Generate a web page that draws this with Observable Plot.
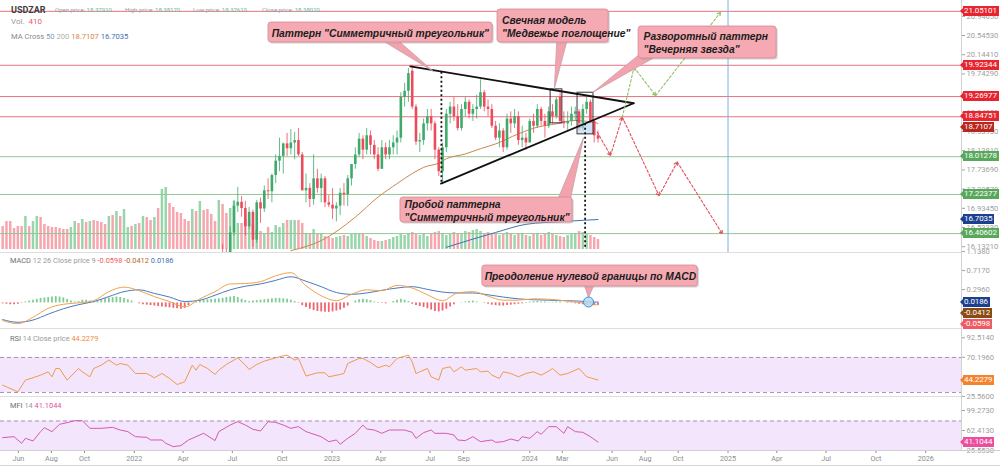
<!DOCTYPE html>
<html><head><meta charset="utf-8">
<script src="https://cdn.jsdelivr.net/npm/d3@7"></script>
<script src="https://cdn.jsdelivr.net/npm/@observablehq/plot@0.6"></script>
<style>
body{margin:0;background:#fff;}
#chart{position:relative;width:1000px;height:467px;overflow:hidden;background:#fff;font-family:Roboto,"Noto Sans",sans-serif;}
.pane{position:absolute;left:0;}
.sep{position:absolute;left:0;height:1px;background:#dedede;}
.txt{position:absolute;white-space:nowrap;line-height:1;}
.tag{position:absolute;left:963px;height:10px;line-height:10px;font-size:8px;letter-spacing:-0.1px;color:#fff;padding:0 2px 0 1px;white-space:nowrap;}
.tag::before{content:"";position:absolute;left:-3px;top:2px;border-top:3px solid transparent;border-bottom:3px solid transparent;border-right:3px solid var(--bg);}
</style></head>
<body><div id="chart"></div>
<script>
// ---------------- DATA ----------------
const WEEK0 = Date.UTC(2021, 4, 3);            // first weekly bar (Mon 3 May 2021)
const CANDLE_FIRST = 58;                       // first candle drawn in the visible price range (13 Jun 2022)
const candleOpen = [15.95,15.93,15.92,16.42,16.98,17.06,16.93,16.55,16.85,16.27,
 17.05,16.92,17.30,17.28,17.62,17.92,18.02,18.28,18.18,18.30,
 18.35,18.05,17.30,17.35,17.12,17.55,17.35,17.55,17.05,17.00,
 16.92,16.98,17.25,17.22,17.55,17.85,18.05,18.38,18.15,18.45,
 18.25,18.05,17.75,18.20,18.05,18.20,18.30,18.40,19.25,19.38,
 19.80,19.05,18.32,18.35,18.70,18.85,18.70,18.15,17.70,18.20,
 18.90,19.05,18.85,18.60,19.00,19.15,18.90,19.00,19.05,19.35,
 19.05,19.00,18.65,18.40,18.55,18.20,18.80,18.70,18.85,18.35,
 18.40,18.30,18.75,18.65,19.00,18.75,18.65,18.95,18.85,19.25,
 18.75,18.70,18.75,18.90,18.95,18.60,19.00,19.15,18.75,18.45];
const candleHigh = [16.18,16.08,16.55,17.10,17.37,17.18,17.08,16.95,16.90,17.10,
 17.15,17.40,17.55,17.65,18.05,18.40,18.30,18.50,18.58,18.52,
 18.60,18.10,17.65,17.45,18.05,17.75,17.65,17.60,17.20,17.35,
 17.05,17.35,17.45,17.62,17.85,18.20,18.50,18.45,18.60,18.55,
 18.35,18.20,18.35,18.30,18.35,18.45,18.55,19.35,19.55,19.86,
 19.92,19.10,18.50,18.80,19.00,19.00,18.75,18.20,18.30,19.00,
 19.15,19.25,19.10,19.10,19.25,19.20,19.10,19.30,19.62,19.40,
 19.20,19.10,18.75,18.70,18.60,18.90,18.95,19.00,18.95,18.65,
 18.50,18.80,18.90,19.10,19.05,18.90,19.05,19.10,19.25,19.35,
 18.95,18.95,19.05,19.05,19.00,19.10,19.25,19.20,18.80,18.55];
const candleLow = [15.78,15.78,15.80,16.35,16.85,16.75,16.35,16.50,16.12,16.20,
 16.62,16.85,17.12,17.05,17.45,17.70,17.65,18.02,18.05,17.95,
 18.02,17.30,17.05,16.95,17.00,17.25,17.05,16.95,16.95,16.70,
 16.65,16.78,16.98,16.97,17.40,17.75,18.00,17.95,18.05,18.05,
 17.95,17.70,17.75,17.95,17.95,18.05,18.05,18.30,19.05,19.15,
 19.00,18.25,18.10,18.25,18.55,18.55,17.95,17.60,17.45,18.10,
 18.70,18.75,18.55,18.55,18.85,18.80,18.75,18.80,19.00,18.95,
 18.85,18.60,18.35,18.20,18.10,18.15,18.50,18.60,18.25,18.20,
 18.15,18.30,18.50,18.60,18.65,18.40,18.60,18.70,18.80,18.70,
 18.60,18.55,18.65,18.75,18.55,18.55,18.90,18.70,18.30,18.30];
const candleClose = [15.93,15.92,16.42,16.98,17.06,16.93,16.55,16.85,16.27,17.05,
 16.92,17.30,17.28,17.62,17.92,18.02,18.28,18.18,18.30,18.35,
 18.05,17.30,17.35,17.12,17.55,17.35,17.55,17.05,17.00,16.92,
 16.98,17.25,17.22,17.55,17.85,18.05,18.38,18.15,18.45,18.25,
 18.05,17.75,18.20,18.05,18.20,18.30,18.40,19.25,19.38,19.75,
 19.05,18.32,18.35,18.70,18.85,18.70,18.15,17.70,18.20,18.90,
 19.05,18.85,18.60,19.00,19.15,18.90,19.00,19.05,19.35,19.05,
 19.00,18.65,18.40,18.55,18.20,18.80,18.70,18.85,18.35,18.40,
 18.30,18.75,18.65,19.00,18.75,18.65,18.95,18.85,19.20,18.75,
 18.70,18.75,18.90,18.95,18.60,19.00,19.15,18.75,18.45,18.38];
// weekly volume (one value per week from 3 May 2021)
const volume = [23,28,28,21,23,23,33,23,28,33,32,25,23,22,22,21,20,20,22,28,
 26,30,27,28,29,28,27,25,33,34,38,33,40,22,23,25,26,33,32,29,
 32,41,60,62,46,42,37,36,30,28,40,38,48,39,40,35,28,49,45,36,
 41,48,26,26,30,28,25,19,18,15,22,17,24,22,26,29,29,29,29,26,
 16,15,20,15,16,13,12,11,12,13,14,13,15,16,15,15,13,11,9,8,
 8,9,10,12,13,15,14,16,17,15,14,16,13,15,17,18,16,14,15,17,
 16,15,18,17,19,20,18,16,17,15,16,14,15,17,16,14,15,16,14,13,
 15,16,14,15,17,16,14,13,12,14,15,16,18,17,15,14,12,10];
// up(1)/down(0) colour of the volume bars before the first visible candle
const volUpEarly = [0,0,0,0,0,0,1,0,1,1,0,0,0,0,0,0,0,0,1,1,
 0,1,0,1,0,0,0,0,1,0,1,0,1,1,0,1,0,1,0,0,
 1,0,1,1,0,0,0,0,0,0,1,0,1,0,0,0,0,1];
const ma50Week = [76,84,93,99,104,108,111,115,117,122,126,130,136,141,146,151,157];
const ma50Value = [16.05,16.26,16.75,17.17,17.45,17.66,17.79,17.88,17.97,18.07,18.18,18.28,18.49,18.63,18.70,18.77,18.71];
const ma200Week = [117,130,138,148,157];
const ma200Value = [16.12,16.43,16.60,16.66,16.70];
const levelValues = [21.05101,19.92344,19.26977,18.84751,18.01278,17.22377,16.40602];
const levelKind = ["r","r","r","r","g","g","g"];
const priceTicks = [16.1321,16.5333,16.9345,17.3357,17.7369,18.1381,18.5393,18.9405,19.3417,19.7429,20.1441,20.5453,20.9465];

const macdWeek = [0,4,8,12,16,20,24,28,32,36,40,44,48,52,56,60,64,68,72,76,80,84,88,92,96,100,104,108,112,116,120,124,128,132,136,140,144,148,152,156,157];
const macdLine = [-0.39,-0.46,-0.32,-0.12,-0.03,0.0,0.05,0.25,0.35,0.27,0.14,0.03,-0.09,0.09,0.25,0.42,0.43,0.47,0.60,0.67,0.38,0.16,0.05,0.19,0.29,0.27,0.39,0.33,0.18,0.05,0.22,0.25,0.15,0.06,0.06,0.09,0.08,0.05,0.01,-0.04,-0.0412];
const signalLine = [-0.37,-0.43,-0.38,-0.25,-0.13,-0.04,0.03,0.14,0.25,0.29,0.21,0.13,0.03,0.06,0.17,0.29,0.37,0.42,0.50,0.58,0.48,0.36,0.23,0.19,0.22,0.28,0.33,0.36,0.30,0.24,0.22,0.22,0.18,0.13,0.09,0.07,0.06,0.05,0.04,0.02,0.0186];
const macdHist = [-0.02,-0.03,-0.04,-0.04,-0.03,-0.01,0.02,0.04,0.06,0.08,0.10,0.11,0.12,0.13,0.14,0.13,0.11,0.08,0.04,0.02,
 0.03,0.06,0.06,0.04,0.02,0.04,0.07,0.09,0.11,0.12,0.13,0.12,0.10,0.07,0.04,0.00,-0.02,-0.04,-0.05,-0.06,
 -0.07,-0.08,-0.09,-0.10,-0.11,-0.12,-0.13,-0.14,-0.12,-0.06,0.01,0.03,0.05,0.06,0.07,0.08,0.08,0.09,0.10,0.12,
 0.13,0.14,0.12,0.08,0.05,0.03,0.04,0.05,0.06,0.07,0.08,0.09,0.10,0.10,0.09,0.08,0.06,0.03,-0.01,-0.06,
 -0.10,-0.14,-0.17,-0.19,-0.20,-0.21,-0.21,-0.20,-0.18,-0.16,-0.12,-0.07,0.00,0.04,0.07,0.08,0.07,0.05,0.02,0.01,
 -0.01,-0.02,0.00,0.03,0.06,0.08,0.06,0.03,-0.03,-0.06,-0.08,-0.10,-0.13,-0.16,-0.19,-0.20,-0.18,-0.14,-0.09,-0.04,
 0.00,0.01,0.02,0.03,0.04,0.02,0.00,-0.01,-0.03,-0.05,-0.06,-0.07,-0.07,-0.06,-0.05,-0.04,-0.03,-0.02,0.01,0.02,
 0.03,0.03,0.02,0.02,0.01,0.01,0.02,0.02,0.00,-0.01,-0.01,-0.02,-0.03,-0.04,-0.05,-0.05,-0.06,-0.06];
const macdTicks = [1.138,0.717,0.296];

const rsiWeek = [0,1,4,6,8,10,12,13,14,15,17,20,21,23,24,26,28,30,31,33,35,38,40,42,44,46,48,50,51,52,54,56,57,59,61,62,64,65,67,69,72,74,75,77,78,80,83,85,86,89,90,91,94,95,97,99,101,102,104,107,108,109,110,112,113,115,116,118,119,121,122,125,126,128,129,131,132,134,136,138,140,142,144,145,147,149,152,154,155,157];
const rsiValue = [38.4,36.5,30.8,44.1,46.8,49.8,53.6,47.9,57.4,57.4,44.1,57.4,53.6,47.9,57.4,61.2,67,61.2,63.1,61.2,51.7,51.7,46.8,51.7,46,39.1,42.2,61.2,55.5,62,57.4,50.6,55.5,62,67,69.6,61.2,56.3,62,65.8,69.6,71.9,72.7,67,68.9,48.8,52.5,52.5,47.9,50.6,51.7,63.1,68.9,68.9,64.3,58.2,61.2,59.3,68.9,72.7,65,51.7,53.6,57.4,47.9,44.1,57.4,59.3,53.6,59.3,55.5,57.4,53.6,54.4,49.8,46,53.6,51.7,47.9,51.7,53.6,49.8,54.4,57.4,49.8,51.7,57.4,47.9,46.8,44.23];
const rsiTicks = [92.514,70.196,25.56];

const mfiWeek = [0,3,5,6,8,10,11,13,15,17,19,21,23,26,29,31,33,35,38,39,42,43,45,47,49,51,53,56,57,60,62,64,66,68,70,72,74,76,78,80,84,86,88,89,91,93,95,96,98,100,102,106,108,109,111,113,114,117,119,120,122,124,126,129,130,132,134,136,137,139,141,142,144,146,148,149,151,153,155,157];
const mfiValue = [49.3,51.1,38.9,48.1,43.2,60.4,67.7,60.4,73.9,77,80.6,80.6,66.5,66.5,68.3,63.4,60.4,51.1,49.9,45,45,38.9,32.7,34.6,45,51.1,57.3,43.8,60.4,72.6,78.8,72.6,64.7,61.6,78.8,77.5,72.6,66.5,69.6,60.4,51.1,41.9,45,37,48.1,57.3,72.6,65.3,63.4,57.3,63.4,63.4,59.1,48.1,58.5,63.4,57.3,57.3,54.2,45,43.8,51.1,41.9,45,40.7,41.9,46.8,43.2,51.1,48.1,60.4,55.4,69.6,69.6,57.3,69.6,60.4,59.1,51.1,41.1];
const mfiTicks = [99.273,62.413,25.553];

const timeTickDates = ["2021-06-01","2021-08-01","2021-10-01","2022-01-01","2022-04-01","2022-07-01","2022-10-01","2023-01-01","2023-04-01","2023-07-01","2023-09-01","2024-01-01","2024-03-01","2024-06-01","2024-08-01","2024-10-01","2025-01-01","2025-04-01","2025-07-01","2025-10-01","2026-01-01"];
const timeTickLabels = ["Jun","Aug","Oct","2022","Apr","Jul","Oct","2023","Apr","Jul","Sep","2024","Mar","Jun","Aug","Oct","2025","Apr","Jul","Oct","2026"];

// annotations (x in week index from WEEK0, y in price / indicator units)
const triangleUpper = [{i:107.5,p:19.90},{i:166.4,p:19.13}];
const triangleLower = [{i:115.6,p:17.45},{i:166.4,p:19.13}];
const dottedRules = [{i:115.7,p1:19.78,p2:17.48},{i:153.6,p1:18.70,p2:16.10}];
const patternBoxes = [{i1:144.5,i2:147.6,p1:18.71,p2:19.42},{i1:151.6,i2:155.8,p1:18.48,p2:19.35}];
const breakFill = [{i1:151.9,i2:155.6,p1:18.48,p2:18.71}];
const bearPath = [[156.8,18.525],[160.3,18.04],[163.4,18.84],[173.1,17.20],[177.9,17.90],[189.8,16.40]];
const bullPath = [[163.4,18.84],[166.5,19.88],[172.2,19.29],[189.3,21.03]];
const priceCallouts = [
 {i1:70.1,i2:129.2,p1:20.399,p2:20.817,tx:99.6,ty:20.608,anchor:"middle",text:'Паттерн "Симметричный треугольник"'},
 {i1:130.5,i2:159.8,p1:20.399,p2:21.089,tx:131.7,ty:20.744,anchor:"start",text:'Свечная модель\n"Медвежье поглощение"'},
 {i1:167.7,i2:204.1,p1:20.065,p2:20.734,tx:169.0,ty:20.399,anchor:"start",text:'Разворотный паттерн\n"Вечерняя звезда"'},
 {i1:104.9,i2:150.3,p1:16.638,p2:17.16,tx:106.0,ty:16.90,anchor:"start",text:'Пробой паттерна\n"Симметричный треугольник"'}
];
const priceWedges = [
 {id:"a",pts:[[101,20.40],[113.6,19.793],[104.9,20.40]]},
 {id:"b",pts:[[146.1,20.40],[145.5,19.438],[148.7,20.40]]},
 {id:"c",pts:[[168.2,20.17],[155.6,19.355],[171.4,20.065]]},
 {id:"d",pts:[[146.6,17.16],[153.2,18.414],[149.8,17.16]]}
];
const macdCallouts = [{i1:126.5,i2:183.3,p1:0.364,p2:0.829,tx:155.0,ty:0.596,anchor:"middle",text:"Преодоление нулевой границы по MACD"}];
const macdWedges = [{id:"e",pts:[[153.5,0.37],[154.5,0.12],[155.8,0.37]]}];
const macdCircle = [{i:154.5,v:0.02}];

// ---------------- HELPERS ----------------
const DAY = 864e5;
const wk = i => new Date(WEEK0 + i * 7 * DAY);
const X_DOMAIN = [new Date(Date.UTC(2021,3,29)), new Date(Date.UTC(2026,2,8))];
const W = 1000, MR = 39;
const GREEN = "#3faa6c", RED = "#ec4b5b";
const chart = document.getElementById("chart");
const common = {width: W, marginLeft: 0, marginRight: MR, marginTop: 0, marginBottom: 0,
  x: {type: "utc", domain: X_DOMAIN, axis: null}, color: {type: "identity"},
  style: {background: "transparent", overflow: "visible"}};
const axisOpts = (fmt) => ({anchor: "right", tickSize: 3, tickPadding: 2, tickFormat: fmt, fontSize: 7.6, color: "#a0a0a0", label: null, fontFamily: "Roboto, sans-serif"});
const calloutTextOpts = {fontSize: 10.3, fontStyle: "italic", fontWeight: "bold", fontFamily: "Liberation Sans, Arial, sans-serif", fill: "#1c1c1c", lineHeight: 1.25, lineAnchor: "middle"};
function calloutMarks(list, wedges) {
  const wpts = wedges.flatMap(w => w.pts.map(p => ({id: w.id, i: p[0], v: p[1]})));
  return [
    Plot.line(wpts, {x: d => wk(d.i), y: "v", z: "id", fill: "#f3a3ad", stroke: "#c7a0a6", strokeWidth: 0.8}),
    Plot.rect(list, {x1: d => wk(d.i1), x2: d => wk(d.i2), y1: "p1", y2: "p2", fill: "#999", fillOpacity: 0.45, dx: 1.5, dy: 1.5, rx: 3}),
    Plot.rect(list, {x1: d => wk(d.i1), x2: d => wk(d.i2), y1: "p1", y2: "p2", fill: "#f5a9b2", stroke: "#d98894", strokeWidth: 0.8, rx: 3}),
    Plot.text(list, {filter: d => d.anchor === "middle", x: d => wk(d.tx), y: "ty", text: "text", textAnchor: "middle", ...calloutTextOpts}),
    Plot.text(list, {filter: d => d.anchor === "start", x: d => wk(d.tx), y: "ty", text: "text", textAnchor: "start", ...calloutTextOpts})
  ];
}
function place(el, top) { el.classList.add("pane"); el.style.top = top + "px"; chart.appendChild(el); }

// ---------------- DATA TABLES ----------------
const candles = candleClose.map((c, k) => ({t: wk(CANDLE_FIRST + k), o: candleOpen[k], h: candleHigh[k], l: candleLow[k], c,
  col: c >= candleOpen[k] ? GREEN : RED}));
const vols = volume.map((v, i) => {
  const up = i < CANDLE_FIRST ? volUpEarly[i] === 1 : candleClose[i - CANDLE_FIRST] >= candleOpen[i - CANDLE_FIRST];
  return {t: wk(i), v, col: up ? "#98d5aa" : "#f6a6af"};
});
const levels = levelValues.map((v, k) => ({v, col: levelKind[k] === "r" ? "#e8737d" : "#93c793"}));
const ma50 = ma50Week.map((i, k) => ({t: wk(i), v: ma50Value[k]}));
const ma200 = ma200Week.map((i, k) => ({t: wk(i), v: ma200Value[k]}));
const segs = (path, col) => d3.pairs(path).map(([a, b]) => ({x1: wk(a[0]), y1: a[1], x2: wk(b[0]), y2: b[1], col}));
const arrows = [...segs(bearPath, "#e2505d"), ...segs(bullPath, "#93bf68")];

// ---------------- VOLUME (overlay under price) ----------------
const volPlot = Plot.plot({...common, height: 249, y: {domain: [0, 249], axis: null},
  marks: [Plot.ruleX(vols, {x: "t", y1: 0, y2: "v", stroke: "col", strokeWidth: 2.5})]});
place(volPlot, 0);

// ---------------- PRICE ----------------
const pricePlot = Plot.plot({...common, height: 252, y: {domain: [16.011, 21.277], axis: null},
  marks: [
    Plot.ruleY(levels, {y: "v", stroke: "col", strokeWidth: 1}),
    Plot.ruleX([new Date(Date.UTC(2025,0,1))], {stroke: "#7fb0de", strokeWidth: 1}),
    Plot.line(ma200, {x: "t", y: "v", stroke: "#3f6fb5", strokeWidth: 1, curve: "monotone-x", clip: true}),
    Plot.line(ma50, {x: "t", y: "v", stroke: "#c8884f", strokeWidth: 1, curve: "monotone-x", clip: true}),
    Plot.ruleX(candles, {x: "t", y1: "l", y2: "h", stroke: "col", strokeWidth: 1, strokeOpacity: 0.8, clip: true}),
    Plot.ruleX(candles, {x: "t", y1: "o", y2: "c", stroke: "col", strokeWidth: 2.6, clip: true}),
    Plot.rect(breakFill, {x1: d => wk(d.i1), x2: d => wk(d.i2), y1: "p1", y2: "p2", fill: "#b7d6f3", fillOpacity: 0.65}),
    Plot.rect(patternBoxes, {x1: d => wk(d.i1), x2: d => wk(d.i2), y1: "p1", y2: "p2", fill: "none", stroke: "#333", strokeWidth: 1}),
    Plot.line(triangleUpper, {x: d => wk(d.i), y: "p", stroke: "#111", strokeWidth: 1.8}),
    Plot.line(triangleLower, {x: d => wk(d.i), y: "p", stroke: "#111", strokeWidth: 1.8}),
    Plot.ruleX(dottedRules, {x: d => wk(d.i), y1: "p1", y2: "p2", stroke: "#111", strokeWidth: 1.8, strokeDasharray: "2,2.5"}),
    Plot.arrow(arrows, {x1: "x1", y1: "y1", x2: "x2", y2: "y2", stroke: "col", strokeWidth: 1.1, strokeDasharray: "2.5,2", headLength: 5}),
    ...calloutMarks(priceCallouts, priceWedges),
    Plot.axisY(priceTicks, axisOpts(d => d.toFixed(5)))
  ]});
place(pricePlot, 0);

// ---------------- MACD ----------------
const histData = macdHist.map((v, i) => ({t: wk(i), v, col: v >= 0 ? "#7fcc93" : "#f06470"}));
const macdData = macdWeek.map((i, k) => ({t: wk(i), m: macdLine[k], s: signalLine[k]}));
const macdPlot = Plot.plot({...common, height: 76, y: {domain: [-0.5676, 1.1175], axis: null},
  marks: [
    Plot.ruleX(histData, {x: "t", y1: 0, y2: "v", stroke: "col", strokeWidth: 1.8}),
    Plot.line(macdData, {x: "t", y: "s", stroke: "#4a78c2", strokeWidth: 1, curve: "monotone-x"}),
    Plot.line(macdData, {x: "t", y: "m", stroke: "#eea34c", strokeWidth: 1, curve: "monotone-x"}),
    ...calloutMarks(macdCallouts, macdWedges),
    Plot.dot(macdCircle, {x: d => wk(d.i), y: "v", r: 5, fill: "#b5daf5", fillOpacity: 0.85, stroke: "#3f8ed8", strokeWidth: 1}),
    Plot.axisY(macdTicks, axisOpts(d => d.toFixed(4)))
  ]});
place(macdPlot, 252);

// ---------------- RSI ----------------
const band = [{}];
const rsiData = rsiWeek.map((i, k) => ({t: wk(i), v: rsiValue[k]}));
const rsiPlot = Plot.plot({...common, height: 68, y: {domain: [25.4, 103.1], axis: null},
  marks: [
    Plot.rect(band, {x1: () => X_DOMAIN[0], x2: () => X_DOMAIN[1], y1: () => 30, y2: () => 70, fill: "#f3e5fb"}),
    Plot.ruleY([30, 70], {stroke: "#a892b8", strokeDasharray: "4,3", strokeWidth: 1}),
    Plot.line(rsiData, {x: "t", y: "v", stroke: "#f09a4e", strokeWidth: 1}),
    Plot.axisY(rsiTicks, axisOpts(d => d.toFixed(4)))
  ]});
place(rsiPlot, 328);

// ---------------- MFI ----------------
const mfiData = mfiWeek.map((i, k) => ({t: wk(i), v: mfiValue[k]}));
const mfiPlot = Plot.plot({...common, height: 54, y: {domain: [25.6, 125.2], axis: null},
  marks: [
    Plot.rect(band, {x1: () => X_DOMAIN[0], x2: () => X_DOMAIN[1], y1: () => 20, y2: () => 80, fill: "#f3e5fb", clip: true}),
    Plot.ruleY([80], {stroke: "#a892b8", strokeDasharray: "4,3", strokeWidth: 1}),
    Plot.line(mfiData, {x: "t", y: "v", stroke: "#d65aae", strokeWidth: 1}),
    Plot.axisY(mfiTicks, axisOpts(d => d.toFixed(4)))
  ]});
place(mfiPlot, 396);

// ---------------- TIME AXIS ----------------
const labelOf = new Map(timeTickDates.map((d, k) => [+new Date(d + "T00:00:00Z"), timeTickLabels[k]]));
const timePlot = Plot.plot({width: W, height: 17, marginLeft: 0, marginRight: MR, marginTop: 0, marginBottom: 17,
  x: {type: "utc", domain: X_DOMAIN, axis: null}, style: {background: "transparent", overflow: "visible"},
  marks: [Plot.axisX(timeTickDates.map(d => new Date(d + "T00:00:00Z")), {anchor: "bottom", tickSize: 3, tickPadding: 2,
    tickFormat: d => labelOf.get(+d), fontSize: 7.2, color: "#8e8e8e", label: null, fontFamily: "Roboto, sans-serif"})]});
place(timePlot, 450);

// ---------------- FRAME LINES ----------------
function line(style) { const d = document.createElement("div"); d.className = "sep"; Object.assign(d.style, style); chart.appendChild(d); }
[252, 328, 396].forEach(y => line({top: y + "px", width: "961px"}));
line({top: "450px", width: "1000px", background: "#cfcfcf"});
line({top: "465px", width: "1000px", background: "#d5d5d5"});
line({top: "0px", left: "961px", width: "1px", height: "450px", background: "#d2d2d2"});

// ---------------- VALUE TAGS (positioned through the plots' y scales) ----------------
function tags(plot, top, list) {
  const sy = plot.scale("y");
  const items = list.map(t => ({...t, y: top + sy.apply(t.v)})).sort((a, b) => a.y - b.y);
  let prev = -1e9;
  for (const t of items) {
    const y = Math.max(t.y, prev + 11); prev = y;
    const d = document.createElement("div"); d.className = "tag";
    d.style.top = (y - 5) + "px"; d.style.background = t.bg; d.style.setProperty("--bg", t.bg);
    d.textContent = t.label; chart.appendChild(d);
  }
}
const priceTagList = levelValues.map((v, k) => ({v, label: v.toFixed(5), bg: levelKind[k] === "r" ? "#e8242f" : "#58a85a"}));
priceTagList.push({v: 18.7107, label: "18.7107", bg: "#b8261d"}, {v: 16.7035, label: "16.7035", bg: "#1d3f8f"});
tags(pricePlot, 0, priceTagList);
tags(macdPlot, 252, [{v: 0.0186, label: "0.0186", bg: "#1d3f8f"}, {v: -0.0412, label: "-0.0412", bg: "#8a4a12"}, {v: -0.0598, label: "-0.0598", bg: "#ef5a63"}]);
tags(rsiPlot, 328, [{v: 44.2279, label: "44.2279", bg: "#f5832b"}]);
tags(mfiPlot, 396, [{v: 41.1044, label: "41.1044", bg: "#ee4c9f"}]);

// ---------------- HEADER TEXTS ----------------
function txt(html, left, top, size) { const d = document.createElement("div"); d.className = "txt"; d.style.left = left + "px"; d.style.top = top + "px"; d.style.fontSize = size + "px"; d.innerHTML = html; chart.appendChild(d); }
const g = s => `<span style="color:#9a9a9a">${s}</span>`;
const c = (s, col) => `<span style="color:${col}">${s}</span>`;
txt(`<b style="color:#3d3d3d">USDZAR</b>`, 11, 5.5, 9);
txt(g("Open price: ") + c("18.37920", "#6dbb9f"), 55, 7, 6);
txt(g("High price: ") + c("18.38170", "#6dbb9f"), 125, 7, 6);
txt(g("Low price: ") + c("18.37610", "#6dbb9f"), 193, 7, 6);
txt(g("Close price: ") + c("18.38020", "#6dbb9f"), 262, 7, 6);
txt(g("Vol.&nbsp; ") + c("410", "#e8606c"), 11, 17.5, 8);
txt(`<span style="color:#8a8a8a">MA Cross</span> ` + c("50", "#7f9cc4") + " " + c("200", "#b0b0b0") + " " + c("18.7107", "#d9843c") + " " + c("16.7035", "#3f6fb5"), 11, 33, 7.6);
txt(`<span style="color:#6f6f6f">MACD</span> ` + g("12 26 Close price 9") + " " + c("-0.0598", "#ef5a63") + " " + c("-0.0412", "#b0671f") + " " + c("0.0186", "#3f6fb5"), 10, 257, 7.4);
txt(`<span style="color:#6f6f6f">RSI</span> ` + g("14 Close price") + " " + c("44.2279", "#f08a3c"), 10, 334.5, 7.4);
txt(`<span style="color:#6f6f6f">MFI</span> ` + g("14") + " " + c("41.1044", "#e0509f"), 10, 401.5, 7.4);
</script></body></html>
